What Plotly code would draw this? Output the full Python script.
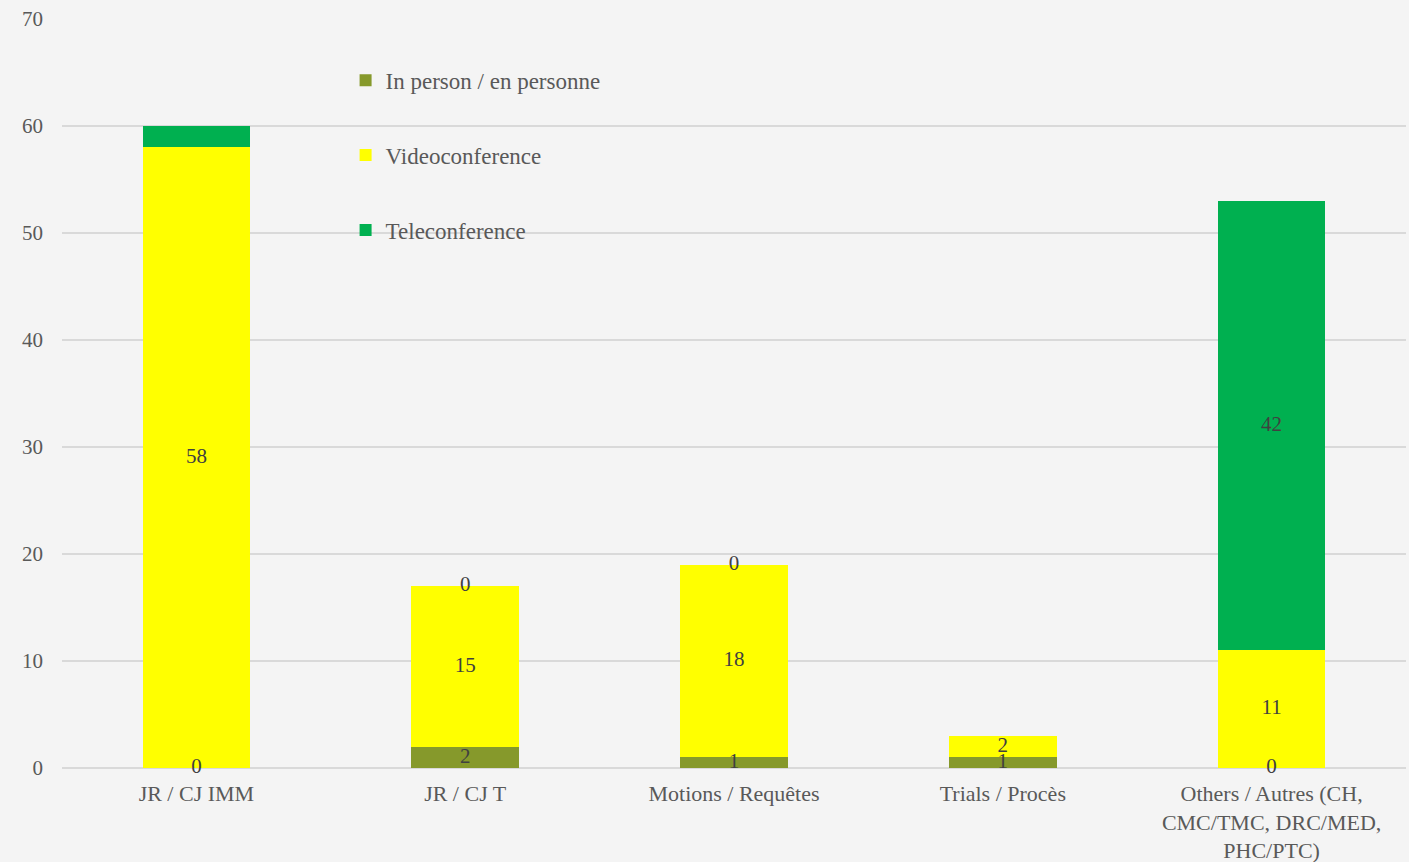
import plotly.graph_objects as go
import numpy as np

categories = ["JR / CJ IMM", "JR / CJ T", "Motions / Requêtes", "Trials / Procès",
              "Others / Autres (CH,<br>CMC/TMC, DRC/MED,<br>PHC/PTC)"]
series_names = ["In person / en personne", "Videoconference", "Teleconference"]
in_person = [0, 2, 1, 1, 0]
video = [58, 15, 18, 2, 11]
tele = [2, 0, 0, 0, 42]
# labels shown in the reference (some segments carry no label)
in_person_lbl = ["0", "2", "1", "1", "0"]
video_lbl = ["58", "15", "18", "2", "11"]
tele_lbl = ["", "0", "0", "", "42"]
colors = ["#86992b", "#ffff00", "#00b050"]
y_ticks = [0, 10, 20, 30, 40, 50, 60, 70]

FONT = "Liberation Serif"
fig = go.Figure()
series = [in_person, video, tele]
labels = [in_person_lbl, video_lbl, tele_lbl]
base = np.zeros(len(categories))
for i, (name, vals, col) in enumerate(zip(series_names, series, colors)):
    fig.add_trace(go.Bar(x=categories, y=vals, name=name, marker_color=col,
                         marker_line_width=0, width=0.4, legendgroup=str(i)))
for vals, lbl in zip(series, labels):
    v = np.array(vals, dtype=float)
    mid = base + v / 2
    fig.add_trace(go.Scatter(x=categories, y=mid, mode="text", text=lbl,
                             textfont=dict(family=FONT, size=21, color="#404040"),
                             cliponaxis=False, showlegend=False, hoverinfo="skip"))
    base = base + v

fig.update_layout(
    barmode="stack",
    width=1409, height=862,
    margin=dict(l=62, r=3, t=19, b=94),
    paper_bgcolor="#f4f4f4", plot_bgcolor="#f4f4f4",
    font=dict(family=FONT, size=20, color="#595959"),
    legend=dict(x=0.211, y=0.947, xanchor="left", yanchor="top",
                traceorder="grouped", tracegroupgap=42,
                bgcolor="rgba(0,0,0,0)", font=dict(size=23, color="#595959"),
                itemwidth=30),
    showlegend=True,
)
fig.update_xaxes(showgrid=False, showline=False, ticks="", ticklabelstandoff=10,
                 automargin=False, tickfont=dict(size=22, color="#595959"))
fig.update_yaxes(range=[0, 70], tickvals=y_ticks, showgrid=True, gridcolor="#d9d9d9",
                 gridwidth=1.5, zeroline=True, zerolinecolor="#d9d9d9", zerolinewidth=1.5,
                 showline=False, ticklabelstandoff=18, automargin=False,
                 tickfont=dict(size=21, color="#595959"))
fig.write_html("out.html")
